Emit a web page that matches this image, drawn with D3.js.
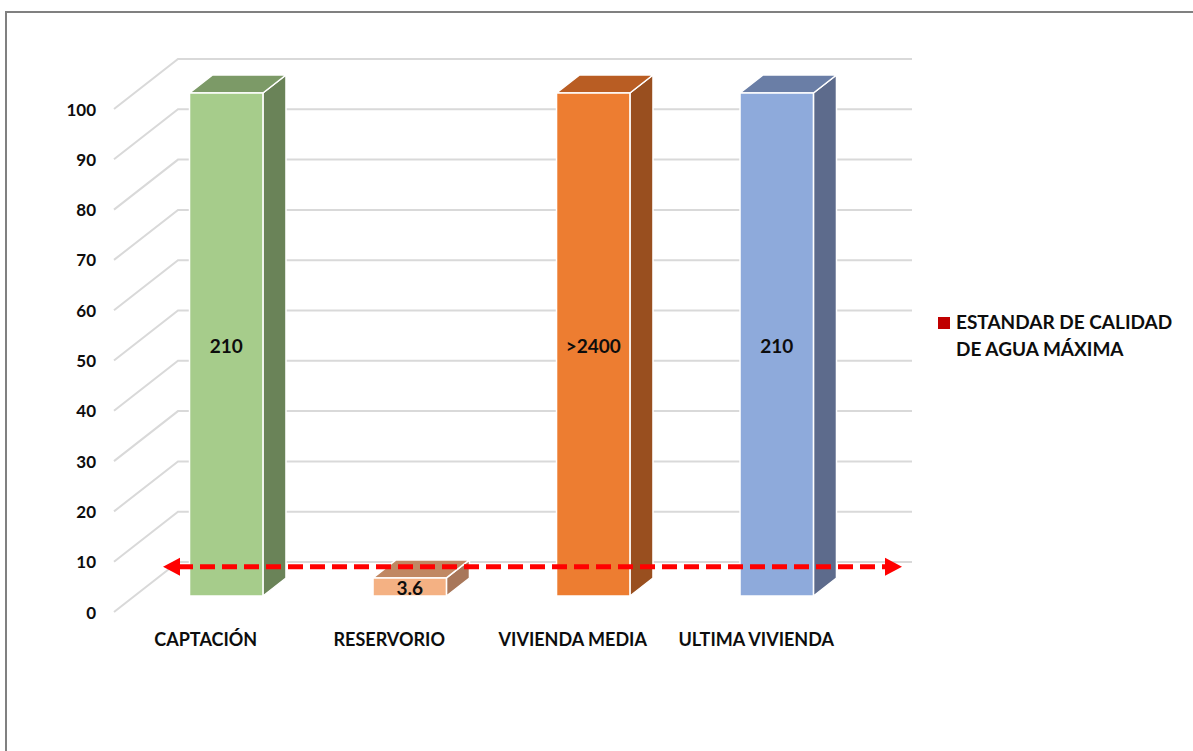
<!DOCTYPE html>
<html>
<head>
<meta charset="utf-8">
<script src="https://cdn.jsdelivr.net/npm/d3@7/dist/d3.min.js"></script>
<style>
  html, body { margin: 0; padding: 0; background: #fff; }
  svg { display: block; font-family: Lato, "Open Sans", "Liberation Sans", sans-serif; }
</style>
</head>
<body>
<svg id="chart" width="1193" height="751"></svg>
<script>
// ---- data ----
const categories = ["CAPTACIÓN", "RESERVORIO", "VIVIENDA MEDIA", "ULTIMA VIVIENDA"];
const values = [210, 3.6, 2400, 210];
const valueLabels = ["210", "3.6", ">2400", "210"];
const yTicks = [0, 10, 20, 30, 40, 50, 60, 70, 80, 90, 100];
const standardValue = 5.8;
const legendLines = ["ESTANDAR DE CALIDAD", "DE AGUA MÁXIMA"];

const frontColors = ["#a6cc8b", "#f4b183", "#ed7d31", "#8eaadb"];
const sideColors  = ["#6a8358", "#a8775a", "#994f1f", "#5d6b8c"];
const topColors   = ["#7c9a67", "#c08863", "#b95d23", "#6a7ea6"];

// ---- layout ----
const svg = d3.select("#chart");
const W = 1193, H = 751;
const depth = { dx: 64, dy: -50 };   // back-wall offset
const zFront = 0.32, zBack = 0.68;   // bar depth positions

const y = d3.scaleLinear().domain([0, 100]).range([612, 109]);
const x = d3.scaleBand().domain(categories).range([114, 848])
  .paddingInner(0.6).paddingOuter(0.3);

function P(px, v, z) { return [px + z * depth.dx, y(v) + z * depth.dy]; }

// frame
svg.append("rect").attr("x", 6).attr("y", 12).attr("width", W + 20).attr("height", H + 20)
  .attr("fill", "#fff").attr("stroke", "#808080").attr("stroke-width", 2);

// gridlines (side wall diagonal + back wall)
const grid = svg.append("g").attr("stroke", "#d9d9d9").attr("stroke-width", 2).attr("fill", "none");
yTicks.forEach(t => {
  const a = P(x.range()[0], t, 0), b = P(x.range()[0], t, 1), c = P(x.range()[1], t, 1);
  grid.append("polyline").attr("points", [a, b, c].map(p => p.join(",")).join(" "));
});

// y axis labels
svg.append("g").selectAll("text").data(yTicks).join("text")
  .attr("x", 96).attr("y", d => y(d))
  .attr("text-anchor", "end").attr("dominant-baseline", "central")
  .attr("font-size", 17).attr("font-weight", 700).attr("fill", "#0d0d0d")
  .text(d => d);

// category labels
svg.append("g").selectAll("text").data(categories).join("text")
  .attr("x", d => x(d) + x.bandwidth() / 2).attr("y", 646)
  .attr("text-anchor", "middle")
  .attr("font-size", 18).attr("font-weight", 700).attr("fill", "#0d0d0d")
  .text(d => d);

// bars
const bars = svg.append("g");
categories.forEach((c, i) => {
  const v = Math.min(values[i], 100);
  const x0 = x(c), x1 = x(c) + x.bandwidth();
  const g = bars.append("g").attr("stroke", "#fff").attr("stroke-width", 1.5).attr("stroke-linejoin", "round");
  const poly = pts => pts.map(p => p.join(",")).join(" ");
  g.append("polygon").attr("fill", sideColors[i])
    .attr("points", poly([P(x1, 0, zFront), P(x1, 0, zBack), P(x1, v, zBack), P(x1, v, zFront)]));
  g.append("polygon").attr("fill", topColors[i])
    .attr("points", poly([P(x0, v, zFront), P(x1, v, zFront), P(x1, v, zBack), P(x0, v, zBack)]));
  g.append("polygon").attr("fill", frontColors[i])
    .attr("points", poly([P(x0, 0, zFront), P(x1, 0, zFront), P(x1, v, zFront), P(x0, v, zFront)]));
});

// standard arrow (red dashed, double-headed)
const ya = P(0, standardValue, zFront)[1];
const ax0 = x.range()[0] + 49, ax1 = x.range()[1] + 54;
const head = 17, headH = 18;
svg.append("line")
  .attr("x1", ax0 + head - 2).attr("x2", ax1 - head + 2).attr("y1", ya).attr("y2", ya)
  .attr("stroke", "#ff0000").attr("stroke-width", 5).attr("stroke-dasharray", "15 7");
svg.append("polygon").attr("fill", "#ff0000")
  .attr("points", [[ax0, ya], [ax0 + head, ya - headH / 2], [ax0 + head, ya + headH / 2]].map(p => p.join(",")).join(" "));
svg.append("polygon").attr("fill", "#ff0000")
  .attr("points", [[ax1, ya], [ax1 - head, ya - headH / 2], [ax1 - head, ya + headH / 2]].map(p => p.join(",")).join(" "));

// value labels
categories.forEach((c, i) => {
  const v = Math.min(values[i], 100);
  const cx = x(c) + x.bandwidth() / 2;
  const p = P(cx, v / 2, zFront);
  svg.append("text").attr("x", p[0]).attr("y", p[1] + 1)
    .attr("text-anchor", "middle").attr("dominant-baseline", "central")
    .attr("font-size", 19).attr("font-weight", 700).attr("fill", "#0d0d0d")
    .text(valueLabels[i]);
});

// legend
const lg = svg.append("g");
lg.append("rect").attr("x", 938).attr("y", 317).attr("width", 12).attr("height", 12).attr("fill", "#c00000");
legendLines.forEach((t, i) => {
  lg.append("text").attr("x", 956).attr("y", 329 + i * 27)
    .attr("font-size", 19).attr("font-weight", 700).attr("fill", "#0d0d0d").text(t);
});
</script>
</body>
</html>
